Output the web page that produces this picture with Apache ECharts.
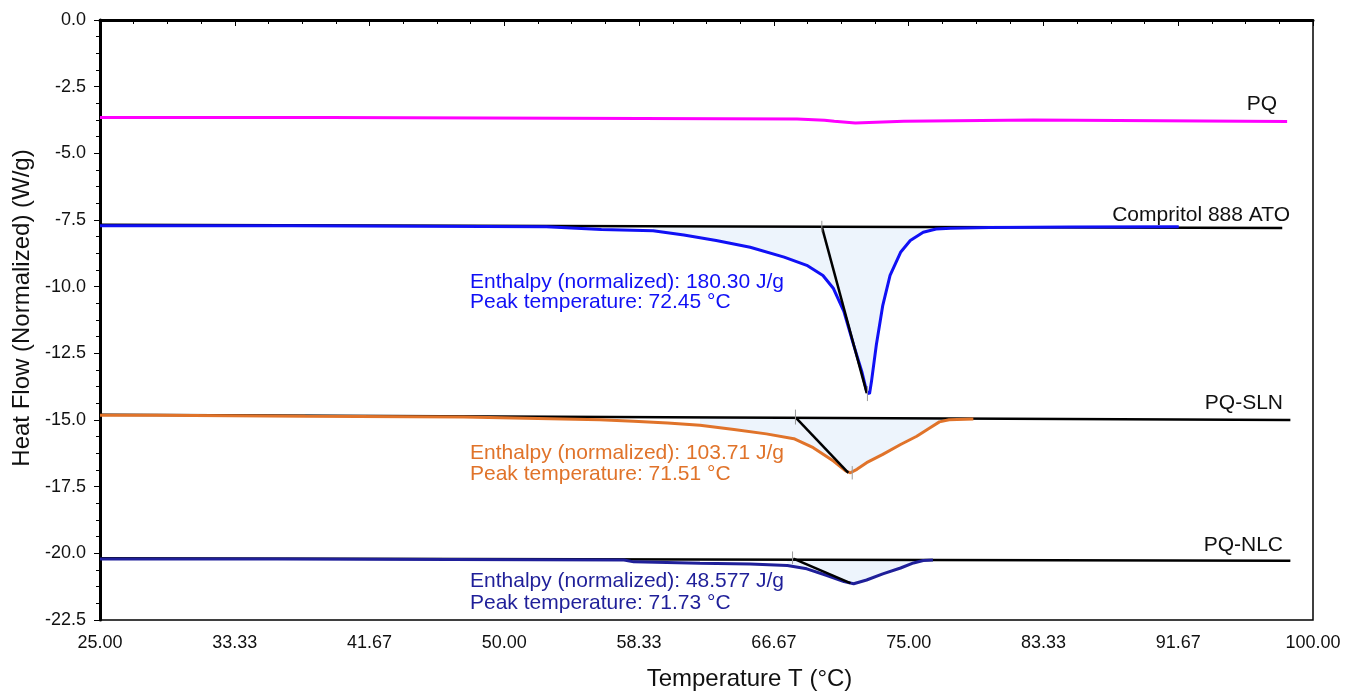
<!DOCTYPE html>
<html>
<head>
<meta charset="utf-8">
<script src="https://cdn.jsdelivr.net/npm/echarts@6/dist/echarts.min.js"></script>
<style>
  html, body { margin: 0; background: #fff; }
  #chart { width: 1358px; height: 696px; }
</style>
</head>
<body>
<div id="chart"></div>
<script>
// DSC thermograms, heat flow (W/g) vs temperature (°C)
const pqT  = [25, 39.2, 39.3, 68.1, 68.2, 69.8, 69.9, 70.4, 70.5, 71.7, 71.8, 74.7, 74.8, 82.7, 82.8, 98.4];
const pqHF = [-3.66, -3.66, -3.71, -3.71, -3.76, -3.76, -3.80, -3.80, -3.86, -3.86, -3.80, -3.80, -3.75, -3.75, -3.81, -3.81];

const compT  = [25, 36.9, 37.0, 52.6, 52.7, 56.0, 59.2, 61.1, 63.1, 65.2, 67.3, 68.7, 69.7, 70.35, 71.0, 71.6, 72.1, 72.4, 72.58, 72.7, 73.0, 73.4, 73.85, 74.5, 75.1, 75.9, 76.7, 77.6, 80, 85, 91.7];
const compHF = [-7.72, -7.72, -7.75, -7.75, -7.79, -7.86, -7.90, -8.06, -8.27, -8.52, -8.89, -9.20, -9.58, -10.07, -10.94, -12.19, -13.18, -13.93, -14.02, -13.56, -12.19, -10.70, -9.58, -8.71, -8.27, -7.96, -7.84, -7.81, -7.78, -7.76, -7.75];
const compBase = [[25, -7.68], [98.1, -7.80]];

const slnT  = [25, 28.5, 28.55, 37.7, 37.75, 47.5, 47.55, 55.9, 58.0, 60.1, 62.1, 64.2, 66.2, 67.9, 69.1, 70.35, 71.1, 71.4, 71.8, 72.4, 73.4, 74.5, 75.5, 76.3, 76.9, 77.5, 79];
const slnHF = [-14.82, -14.82, -14.86, -14.86, -14.89, -14.89, -14.93, -14.99, -15.05, -15.11, -15.20, -15.36, -15.52, -15.70, -16.04, -16.54, -16.91, -16.98, -16.85, -16.60, -16.29, -15.92, -15.61, -15.30, -15.07, -14.99, -14.96];
const slnBase = [[25, -14.80], [98.6, -15.00]];

const nlcT  = [25, 36, 36.05, 57.4, 58.0, 62.1, 65.2, 67.5, 68.7, 69.95, 71.0, 71.6, 72.4, 73.4, 74.5, 75.3, 75.9, 76.5];
const nlcHF = [-20.21, -20.21, -20.25, -20.25, -20.32, -20.37, -20.40, -20.46, -20.58, -20.83, -21.06, -21.14, -21.00, -20.77, -20.55, -20.36, -20.27, -20.25];
const nlcBase = [[25, -20.18], [98.6, -20.28]];

// integration range (°C) and baseline level used for the shaded areas
const compFillRange = [59.2, 77.6], compFillLevel = -7.76;
const slnFillRange  = [62.1, 77.5], slnFillLevel  = -14.92;
const nlcFillRange  = [67.5, 76.5], nlcFillLevel  = -20.23;

// onset tangents
const compTangent = [[69.63, -7.75], [72.41, -13.99]];
const slnTangent  = [[68.05, -14.93], [71.27, -16.98]];
const nlcTangent  = [[67.87, -20.20], [71.40, -21.12]];

// small grey marker ticks: [T, top, bottom]
const markerTicks = [
  [69.63, -7.53, -7.96], [72.45, -13.73, -14.29],
  [68.0, -14.61, -15.17], [71.51, -16.73, -17.23],
  [67.82, -19.93, -20.40]
];

const curveNames = ['PQ', 'Compritol 888 ATO', 'PQ-SLN', 'PQ-NLC'];
const annotations = [
  ['Enthalpy (normalized): 180.30 J/g', 'Peak temperature: 72.45 °C'],
  ['Enthalpy (normalized): 103.71 J/g', 'Peak temperature: 71.51 °C'],
  ['Enthalpy (normalized): 48.577 J/g', 'Peak temperature: 71.73 °C']
];

const xTicks = { min: 25, max: 100, interval: 25 / 3 };
const yTicks = { min: -22.5, max: 0, interval: 2.5 };

const colPQ = '#ff00ff', colComp = '#1010f5', colSLN = '#e0732a', colNLC = '#1f1f99';
const fillCol = '#edf4fc';

const zip = (xs, ys) => xs.map((x, i) => [x, ys[i]]);
const inRange = (pts, r) => pts.filter(p => p[0] >= r[0] && p[0] <= r[1]);

const pqData = zip(pqT, pqHF);
const compData = zip(compT, compHF);
const slnData = zip(slnT, slnHF);
const nlcData = zip(nlcT, nlcHF);

const tickData = [];
markerTicks.forEach(m => { tickData.push([m[0], m[1]], [m[0], m[2]], [m[0], '-']); });

function fillSeries(pts, level) {
  return {
    type: 'line', data: pts, symbol: 'none', silent: true, z: 1,
    lineStyle: { width: 0 },
    areaStyle: { color: fillCol, opacity: 1, origin: level }
  };
}
function lineSeries(pts, color, width, z) {
  return {
    type: 'line', data: pts, symbol: 'none', silent: true, z: z,
    lineStyle: { color: color, width: width }
  };
}

const chart = echarts.init(document.getElementById('chart'));

const font = '"Liberation Sans", Arial, sans-serif';
const textEls = [];
const labelPos = [[1277, 104], [1290, 215], [1283, 403], [1283, 545]];
curveNames.forEach((n, i) => {
  textEls.push({
    type: 'text', x: labelPos[i][0], y: labelPos[i][1],
    style: { text: n, fill: '#111', font: '21px ' + font, align: 'right', verticalAlign: 'middle', textAlign: 'right', textVerticalAlign: 'middle' }
  });
});
const annColors = [colComp, colSLN, colNLC];
const annY = [[282, 302], [453, 474], [581, 603]];
annotations.forEach((lines, i) => {
  lines.forEach((t, j) => {
    textEls.push({
      type: 'text', x: 470, y: annY[i][j],
      style: { text: t, fill: annColors[i], font: '21px ' + font, align: 'left', verticalAlign: 'middle', textAlign: 'left', textVerticalAlign: 'middle' }
    });
  });
});

const option = {
  backgroundColor: '#fff',
  animation: false,
  grid: { left: 100, right: 45, top: 20, bottom: 73, show: true, borderColor: '#000', borderWidth: 1.5 },
  xAxis: {
    type: 'value', min: xTicks.min, max: xTicks.max, interval: xTicks.interval,
    name: 'Temperature T (°C)', nameLocation: 'middle', nameGap: 47,
    nameTextStyle: { fontSize: 24, color: '#111', fontFamily: font, padding: [0, 0, 0, 86] },
    axisLine: { lineStyle: { color: '#000', width: 3 } },
    axisTick: { length: 6, lineStyle: { color: '#000', width: 1 } },
    minorTick: { show: true, splitNumber: 4, length: 4, lineStyle: { color: '#000' } },
    axisLabel: { fontSize: 18, color: '#111', fontFamily: font, margin: 14, formatter: v => v.toFixed(2) },
    splitLine: { show: false }
  },
  yAxis: {
    type: 'value', min: yTicks.min, max: yTicks.max, interval: yTicks.interval,
    name: 'Heat Flow (Normalized) (W/g)', nameLocation: 'middle', nameGap: 66,
    nameTextStyle: { fontSize: 24, color: '#111', fontFamily: font, padding: [0, 0, 0, 24] },
    axisLine: { lineStyle: { color: '#000', width: 3 } },
    axisTick: { length: 6, lineStyle: { color: '#000', width: 1 } },
    minorTick: { show: true, splitNumber: 4, length: 4, lineStyle: { color: '#000' } },
    axisLabel: { fontSize: 18, color: '#111', fontFamily: font, margin: 14, formatter: v => v.toFixed(1) },
    splitLine: { show: false }
  },
  graphic: textEls,
  series: [
    fillSeries(inRange(compData, compFillRange), compFillLevel),
    fillSeries(inRange(slnData, slnFillRange), slnFillLevel),
    fillSeries(inRange(nlcData, nlcFillRange), nlcFillLevel),
    lineSeries(compBase, '#000', 2.5, 3),
    lineSeries(slnBase, '#000', 2.5, 3),
    lineSeries(nlcBase, '#000', 2.5, 3),
    lineSeries(pqData, colPQ, 3, 4),
    lineSeries(compData, colComp, 3, 4),
    lineSeries(slnData, colSLN, 3, 4),
    lineSeries(nlcData, colNLC, 3, 4),
    lineSeries(compTangent, '#000', 2.5, 5),
    lineSeries(slnTangent, '#000', 2.5, 5),
    lineSeries(nlcTangent, '#000', 2.5, 5),
    { type: 'line', data: tickData, symbol: 'none', silent: true, z: 6, connectNulls: false,
      lineStyle: { color: '#999', width: 1 } }
  ]
};
chart.setOption(option);
</script>
</body>
</html>
